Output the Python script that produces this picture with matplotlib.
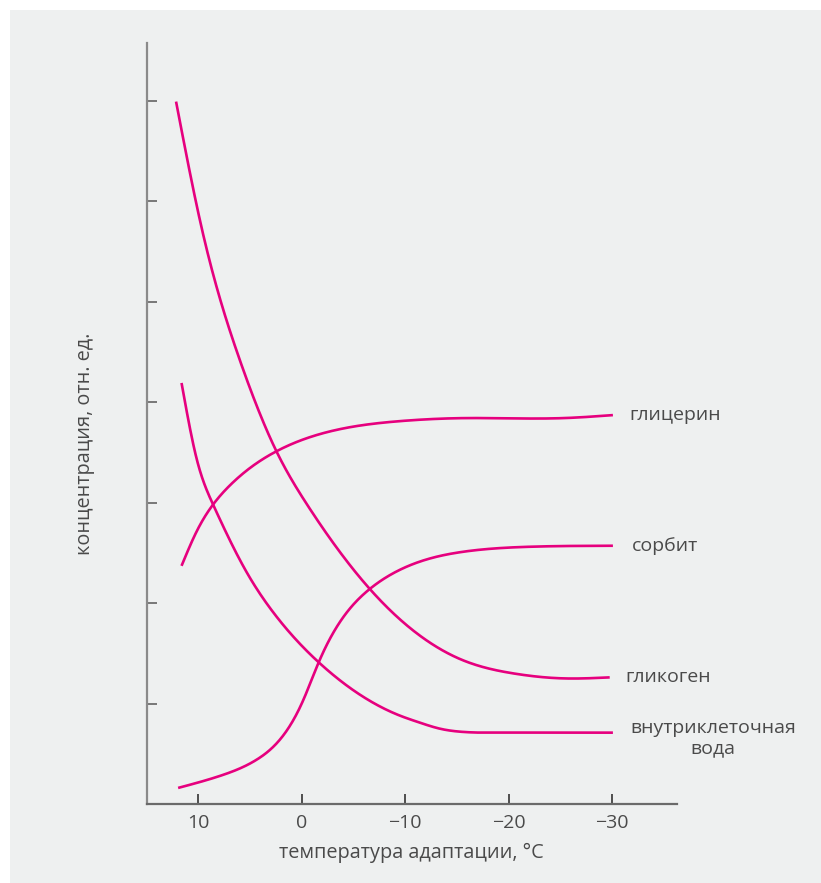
import numpy as np
import matplotlib
matplotlib.use("Agg")
import matplotlib.pyplot as plt
from matplotlib.patches import Rectangle

plt.rcParams["font.family"] = ["Open Sans", "DejaVu Sans"]

# температура адаптации (°C) и концентрации (отн. ед.)
glycogen_t = [12.16, 9.70, 6.00, 2.45, -0.45, -6.58, -15.6, -20.44, -25.27, -29.79]
glycogen_c = [6.99, 5.74, 4.42, 3.51, 2.99, 2.14, 1.43, 1.30, 1.25, 1.26]

glycerol_t = [11.63, 10.18, 8.58, 6.96, 2.45, -2.06, -9.48, -15.6, -25.27, -30.1]
glycerol_c = [2.37, 2.71, 2.98, 3.17, 3.51, 3.69, 3.81, 3.84, 3.84, 3.87]

sorbitol_t = [11.96, 7.61, 4.38, -0.13, -1.64, -6.58, -9.48, -15.6, -22.05, -30.1]
sorbitol_c = [0.16, 0.29, 0.44, 1.03, 1.41, 2.14, 2.33, 2.51, 2.56, 2.57]

water_t = [11.63, 10.18, 8.58, 5.35, 2.78, -1.64, -9.48, -11.41, -13.34, -15.27, -19.15, -30.1]
water_c = [4.19, 3.44, 2.98, 2.31, 1.91, 1.41, 0.88, 0.81, 0.75, 0.72, 0.71, 0.71]

x_ticks = [10, 0, -10, -20, -30]
y_ticks = [1, 2, 3, 4, 5, 6, 7]

LINE = "#e6007e"
TXT = "#4a4a4a"
BG = "#eef0f0"


def spline(xs, ys, n=400):
    # натуральный кубический сплайн через опорные точки
    x = np.asarray(xs, float)[::-1]
    y = np.asarray(ys, float)[::-1]
    k = len(x)
    h = np.diff(x)
    A = np.zeros((k, k))
    b = np.zeros(k)
    A[0, 0] = A[-1, -1] = 1
    for i in range(1, k - 1):
        A[i, i - 1] = h[i - 1]
        A[i, i] = 2 * (h[i - 1] + h[i])
        A[i, i + 1] = h[i]
        b[i] = 6 * ((y[i + 1] - y[i]) / h[i] - (y[i] - y[i - 1]) / h[i - 1])
    M = np.linalg.solve(A, b)
    xx = np.linspace(x[0], x[-1], n)
    j = np.clip(np.searchsorted(x, xx) - 1, 0, k - 2)
    a = x[j + 1] - xx
    c = xx - x[j]
    hj = h[j]
    yy = (M[j] * a ** 3 + M[j + 1] * c ** 3) / (6 * hj) \
        + (y[j] / hj - M[j] * hj / 6) * a + (y[j + 1] / hj - M[j + 1] * hj / 6) * c
    return xx, yy


fig = plt.figure(figsize=(8.21, 8.83), dpi=100)
fig.patch.set_facecolor("white")
fig.patches.append(Rectangle((10 / 821, 0), 1, 1 - 10 / 883, transform=fig.transFigure,
                             facecolor=BG, edgecolor="none", zorder=-10))

ax = fig.add_axes([146.7 / 821, 79 / 883, (677 - 146.7) / 821, (804 - 43.3) / 883])
ax.set_facecolor("none")

for xs, ys in ((glycogen_t, glycogen_c), (glycerol_t, glycerol_c),
               (sorbitol_t, sorbitol_c), (water_t, water_c)):
    sx, sy = spline(xs, ys)
    ax.plot(sx, sy, color=LINE, lw=1.9, solid_capstyle="butt")

ax.set_xlim(15.0, -36.3)
ax.set_ylim(0, 7.57)

for s in ("top", "right"):
    ax.spines[s].set_visible(False)
ax.spines["left"].set_color("#8a8a8a")
ax.spines["left"].set_linewidth(1.6)
ax.spines["bottom"].set_color("#6a6a6a")
ax.spines["bottom"].set_linewidth(1.6)

ax.set_xticks(x_ticks)
ax.set_xticklabels([f"{v}".replace("-", "\u2212") for v in x_ticks])
ax.set_yticks(y_ticks)
ax.set_yticklabels([])
ax.tick_params(axis="x", direction="in", length=7, width=1.2, color="#333333",
               labelsize=14, labelcolor=TXT, pad=7)
ax.tick_params(axis="y", direction="in", length=7, width=1.4, color="#777777")

ax.set_xlabel("температура адаптации, °C", fontsize=14.3, color=TXT, labelpad=8)
fig.text(85 / 821, 1 - 444 / 883, "концентрация, отн. ед.", rotation=90,
         ha="center", va="center", fontsize=14.3, color=TXT)

lab = dict(fontsize=14, color=TXT, va="center", ha="left")
ax.text(glycerol_t[-1] - 1.6, glycerol_c[-1], "глицерин", **lab)
ax.text(sorbitol_t[-1] - 1.8, sorbitol_c[-1], "сорбит", **lab)
ax.text(glycogen_t[-1] - 1.5, glycogen_c[-1], "гликоген", **lab)
ax.text(water_t[-1] - 1.7, water_c[-1] + 0.14, "внутриклеточная\nвода", fontsize=14,
        color=TXT, ha="left", va="top", multialignment="center", linespacing=1.2)

fig.savefig("out.png", dpi=100)
